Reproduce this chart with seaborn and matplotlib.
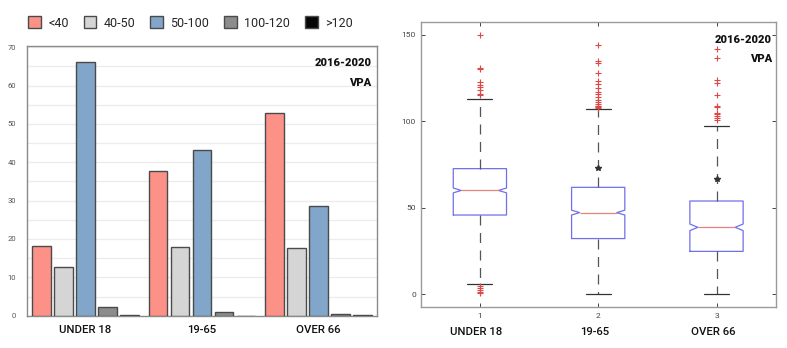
import numpy as np
import pandas as pd
import matplotlib
matplotlib.use("Agg")
import matplotlib.pyplot as plt
import seaborn as sns

# ---- data ----
age_groups = ["UNDER 18", "19-65", "OVER 66"]
bands = ["<40", "40-50", "50-100", "100-120", ">120"]
pct_lt40 = [18.2, 37.8, 52.8]
pct_40_50 = [12.6, 17.8, 17.6]
pct_50_100 = [66.1, 43.1, 28.6]
pct_100_120 = [2.3, 0.9, 0.35]
pct_gt120 = [0.1, 0.05, 0.1]
band_colors = ["#fb9187", "#d5d5d5", "#82a6ca", "#8c8c8c", "#050505"]

box_positions = [1, 2, 3]
box_med = [60.0, 47.2, 38.7]
box_q1 = [45.8, 32.2, 24.8]
box_q3 = [72.6, 61.8, 53.9]
box_whislo = [6.2, 0.0, 0.0]
box_whishi = [113.0, 106.9, 97.2]
box_cilo = [58.6, 45.8, 36.8]
box_cihi = [61.4, 48.6, 40.6]
fliers_1 = [150, 131, 130, 122.5, 121, 119.5, 118, 116, 115, 5, 3.5, 2.5, 1.5, 0.5]
fliers_2 = [144, 135, 133.5, 128, 123, 121.5, 119, 117, 115.5, 114, 112, 111,
            110, 109, 108.5, 108, 107.5]
fliers_3 = [142, 136.5, 124, 122, 115, 109, 108, 105, 104, 103, 102, 100.5]
star_values = [np.nan, 72.8, 66.4]

period_label = "2016-2020"
drug_label = "VPA"

sns.set_theme(style="white")
plt.rcParams["font.family"] = ["Roboto", "DejaVu Sans"]

fig = plt.figure(figsize=(7.87, 3.48), dpi=100)

# ---- left: grouped bars ----
ax1 = fig.add_axes([0.0347, 0.0928, 0.444, 0.775])
df = pd.DataFrame({
    "group": np.repeat(age_groups, len(bands)),
    "band": bands * len(age_groups),
    "value": np.ravel(np.column_stack([pct_lt40, pct_40_50, pct_50_100,
                                       pct_100_120, pct_gt120])),
})
sns.barplot(data=df, x="group", y="value", hue="band", hue_order=bands,
            order=age_groups, palette=band_colors, width=0.943, gap=0.15,
            edgecolor="#4a4a4a", linewidth=1.0, saturation=1, ax=ax1,
            zorder=3)
ax1.set_xlim(-0.5, 2.5)
ax1.set_ylim(0, 70.3)
ax1.set_yticks(np.arange(0, 71, 10))
ax1.set_yticks(np.arange(5, 70, 10), minor=True)
ax1.grid(True, axis="y", which="both", color="#ececec", linewidth=0.9, zorder=0)
ax1.set_axisbelow(True)
ax1.set_xlabel("")
ax1.set_ylabel("")
ax1.tick_params(axis="y", labelsize=5.5, length=0, pad=8, colors="#555555")
ax1.tick_params(axis="x", labelsize=8.2, length=0, pad=7, colors="#111111")
for lab in ax1.get_xticklabels():
    lab.set_fontweight("medium")
for s in ax1.spines.values():
    s.set_color("#8a8a8a")
    s.set_linewidth(1.0)
ax1.text(0.985, 0.955, period_label, transform=ax1.transAxes, ha="right",
         va="top", fontsize=8, fontweight="black", color="#111111")
ax1.text(0.985, 0.88, drug_label, transform=ax1.transAxes, ha="right",
         va="top", fontsize=8, fontweight="black", color="#111111")
handles, labels = ax1.get_legend_handles_labels()
ax1.get_legend().remove()
fig.legend(handles, labels, loc="center", bbox_to_anchor=(0.242, 0.934),
           ncol=5, frameon=False, fontsize=9, handlelength=1.0,
           handleheight=1.1, handletextpad=0.6, columnspacing=1.2)

# ---- right: notched box plot from summary statistics ----
ax2 = fig.add_axes([0.5346, 0.117, 0.451, 0.8207])
stats = []
for i, fl in enumerate([fliers_1, fliers_2, fliers_3]):
    stats.append(dict(med=box_med[i], q1=box_q1[i], q3=box_q3[i],
                      whislo=box_whislo[i], whishi=box_whishi[i],
                      cilo=box_cilo[i], cihi=box_cihi[i], fliers=fl))
box_width = 0.45
parts = ax2.bxp(stats, positions=box_positions, widths=box_width,
                shownotches=True, showfliers=True,
                boxprops=dict(color="#7070ec", linewidth=0.9),
                medianprops=dict(color="#e88080", linewidth=0.9),
                whiskerprops=dict(color="#555555", linewidth=0.9,
                                  linestyle=(0, (8, 6))),
                capprops=dict(color="#333333", linewidth=0.9),
                capwidths=0.21,
                flierprops=dict(marker="+", markeredgecolor="#e04848",
                                markersize=5, markeredgewidth=0.8,
                                linestyle="none"))
# shallower notches: pull the notch tips only a third of the way in
for pos, box, med in zip(box_positions, parts["boxes"], parts["medians"]):
    xs = np.asarray(box.get_xdata(), dtype=float)
    half = box_width / 2
    inner = np.isclose(np.abs(xs - pos), half / 2)
    xs[inner] = pos + np.sign(xs[inner] - pos) * half * 0.7
    box.set_xdata(xs)
    med.set_xdata([pos - half * 0.7, pos + half * 0.7])
ax2.plot(box_positions, star_values, linestyle="none", marker="*",
         color="#333333", markersize=4)
ax2.set_xlim(0.5, 3.5)
ax2.set_ylim(-7.5, 157.5)
ax2.set_yticks([0, 50, 100, 150])
ax2.set_xticks(box_positions)
ax2.set_xticklabels([str(p) for p in box_positions])
ax2.tick_params(axis="both", which="both", direction="in", length=3,
                width=0.7, color="#444444", labelsize=6, colors="#444444",
                top=True, right=True, bottom=True, left=True)
ax2.tick_params(axis="x", pad=4)
for s in ax2.spines.values():
    s.set_color("#9a9a9a")
    s.set_linewidth(1.0)
for pos, name in zip(box_positions, age_groups):
    ax2.text(pos - 0.03, -0.085, name, transform=ax2.get_xaxis_transform(),
             ha="center", va="center", fontsize=8.2, fontweight="medium",
             color="#111111")
ax2.text(0.99, 0.955, period_label, transform=ax2.transAxes, ha="right",
         va="top", fontsize=8, fontweight="black", color="#111111")
ax2.text(0.99, 0.887, drug_label, transform=ax2.transAxes, ha="right",
         va="top", fontsize=8, fontweight="black", color="#111111")

fig.savefig("out.png", dpi=100)
